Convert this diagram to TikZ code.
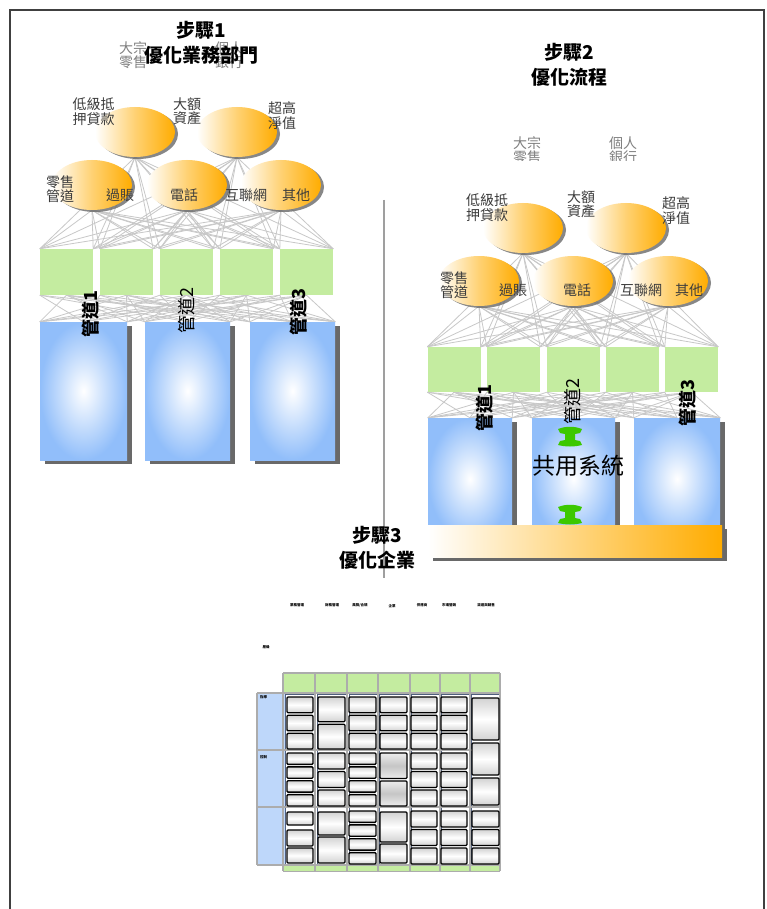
\documentclass[tikz,border=0pt]{standalone}
\usepackage{fontspec}
\setmainfont{Noto Sans CJK TC}
\usetikzlibrary{shapes.geometric,shadows}
\pgfdeclarelayer{bg}
\pgfsetlayers{bg,main}
\definecolor{orangeA}{RGB}{255,172,0}
\definecolor{greenA}{RGB}{196,236,160}
\definecolor{blueA}{RGB}{145,190,250}
\definecolor{lineG}{RGB}{200,200,200}
\definecolor{labelG}{RGB}{60,60,60}
\definecolor{shadowG}{RGB}{105,105,105}
\definecolor{iconG}{RGB}{60,200,0}
\definecolor{rowBlue}{RGB}{190,215,250}
\definecolor{slateA}{RGB}{80,95,125}
\newcommand{\eqcol}[5]{%
  \pgfmathsetmacro\rsH{(#4-#3-(#5-1)*2.5)/#5}%
  \foreach \i in {1,...,#5}{%
    \pgfmathsetmacro\rsA{#3+(\i-1)*(\rsH+2.5)}%
    \pgfmathsetmacro\rsB{\rsA+\rsH}%
    \draw[subbox] (#1,\rsA) rectangle (#2,\rsB);}}
\begin{document}
\begin{tikzpicture}[x=1pt,y=-1pt,
  ell/.style={ellipse, minimum width=80pt, minimum height=50pt, inner sep=0pt,
    left color=white, right color=orangeA, middle color=orangeA!55,
    drop shadow={shadow xshift=3pt, shadow yshift=-2pt, fill=shadowG, opacity=0.8}},
  gbox/.style={rectangle, fill=greenA, minimum width=53pt, minimum height=46pt, inner sep=0pt},
  bbox/.style={rectangle, inner color=white, outer color=blueA, inner sep=0pt,
    drop shadow={shadow xshift=5pt, shadow yshift=-4pt, fill=shadowG, opacity=1}},
  lbl/.style={text=labelG, font=\fontsize{14}{15}\selectfont, align=center, inner sep=0pt},
  tight/.style={font=\fontsize{14}{12}\selectfont},
  mesh/.style={draw=lineG, line width=0.8pt},
  chan/.style={rotate=90, font=\fontsize{18}{18}\selectfont\bfseries, inner sep=0pt},
  chanthin/.style={rotate=90, font=\fontsize{18}{18}\selectfont, inner sep=0pt},
  ttl/.style={font=\fontsize{19}{25}\selectfont\bfseries, align=center, inner sep=0pt},
  tiny/.style={font=\fontsize{3.5}{4}\selectfont\bfseries, inner sep=0pt},
  subbox/.style={draw=black, line width=1.3pt, rounded corners=1pt,
    top color=gray!35, bottom color=gray!35, middle color=white},
  subboxg/.style={draw=black, line width=1.3pt, rounded corners=1pt,
    top color=gray!15, bottom color=gray!15, middle color=gray!45},
]
\useasboundingbox (0,0) rectangle (766,909);
\draw[line width=1.6pt, draw=gray!50!black] (10,909) -- (10,10) -- (764,10) -- (764,909);

% ---------------- Step 1 ----------------
\node[lbl, tight, text=gray] (s1big) at (133,55) {大宗\\零售};
\node[lbl, tight, text=gray] (s1pers) at (229,55) {個人\\銀行};
\node[ttl] (t1) at (201,43) {步驟1\\優化業務部門};

\node[ell] (e11) at (135,132) {};
\node[ell] (e12) at (237,132) {};
\node[ell] (e13) at (92,185) {};
\node[ell] (e14) at (187,185) {};
\node[ell] (e15) at (281,185) {};

\foreach \i/\x in {1/66.5,2/126.5,3/186.5,4/246.5,5/306.5}
  \node[gbox] (g1\i) at (\x,272) {};
\node[bbox, minimum width=87pt, minimum height=138pt] (b11) at (83.5,391) {};
\node[bbox, minimum width=85pt, minimum height=138pt] (b12) at (187.5,391) {};
\node[bbox, minimum width=85pt, minimum height=138pt] (b13) at (292.5,391) {};

\node[lbl] (l11) at (93.5,112) {低級抵\\押貸款};
\node[lbl, font=\fontsize{14}{11.5}\selectfont] (l12) at (187,111) {大額\\資產};
\node[lbl] (l13) at (282,116) {超高\\淨值};
\node[lbl, font=\fontsize{14}{14}\selectfont] (l14) at (60,189) {零售\\管道};
\node[lbl] (l15) at (120,195) {過賬};
\node[lbl] (l16) at (184,195) {電話};
\node[lbl] (l17) at (246,195) {互聯網};
\node[lbl] (l18) at (296,195) {其他};

\node[chan] (c11) at (91,314) {管道1};
\node[chanthin] (c12) at (187,311) {管道2};
\node[chan] (c13) at (299,312) {管道3};

% ---------------- Step 2 ----------------
\node[ttl] (t2) at (569,65) {步驟2\\優化流程};
\begin{scope}
\clip (480,125) rectangle (700,161);
\node[lbl, tight, text=gray] (s2big) at (527,150) {大宗\\零售};
\node[lbl, tight, text=gray] (s2pers) at (623,150) {個人\\銀行};
\end{scope}

\node[ell] (e21) at (523,228) {};
\node[ell] (e22) at (626,228) {};
\node[ell] (e23) at (479,281) {};
\node[ell] (e24) at (573,281) {};
\node[ell] (e25) at (668,281) {};

\foreach \i/\x in {1/454,2/513.5,3/573.5,4/632.5,5/691.5}
  \node[gbox, minimum height=45pt] (g2\i) at (\x,369.5) {};
\node[bbox, minimum width=84pt, minimum height=122pt] (b21) at (470,479) {};
\node[bbox, minimum width=83pt, minimum height=122pt] (b22) at (573.5,479) {};
\node[bbox, minimum width=86pt, minimum height=122pt] (b23) at (677,479) {};
\node[rectangle, minimum width=294pt, minimum height=32pt, inner sep=0pt,
  left color=white, right color=orangeA,
  drop shadow={shadow xshift=5pt, shadow yshift=-4pt, fill=shadowG, opacity=1}] (bar) at (575,541) {};

\node[lbl] (l21) at (487,208) {低級抵\\押貸款};
\node[lbl, font=\fontsize{14}{11.5}\selectfont] (l22) at (581,204) {大額\\資產};
\node[lbl] (l23) at (676,211) {超高\\淨值};
\node[lbl, font=\fontsize{14}{14}\selectfont] (l24) at (454,285) {零售\\管道};
\node[lbl] (l25) at (513,290) {過賬};
\node[lbl] (l26) at (577,290) {電話};
\node[lbl] (l27) at (641,290) {互聯網};
\node[lbl] (l28) at (689,290) {其他};

\node[chan] (c21) at (485,408) {管道1};
\node[chanthin] (c22) at (573,402) {管道2};
\node[chan] (c23) at (688,403) {管道3};

\foreach \cy in {437,515}{
  \begin{scope}[shift={(570,\cy)}]
  \fill[iconG] (-12,-8) .. controls (-4,-11) and (4,-11) .. (12,-8) -- (10,-4) -- (5,-3) -- (5,3) -- (10,4) -- (12,8)
     .. controls (4,10) and (-4,10) .. (-12,8) -- (-10,4) -- (-5,3) -- (-5,-3) -- (-10,-4) -- cycle;
  \end{scope}}
\node[font=\fontsize{23}{23}\selectfont, inner sep=0pt] (shared) at (578,466) {共用系統};

% ---------------- background: divider and mesh ----------------
\begin{pgfonlayer}{bg}
\fill[white] (0,0) rectangle (766,909);
\draw[gray!75, line width=1.2pt] (384,200) -- (384,578);
\foreach \p in {1,2}{
  \foreach \e in {1,...,5}{\foreach \g in {1,...,5}{
    \draw[mesh] (e\p\e.south) -- (g\p\g.north west);
    \draw[mesh] (e\p\e.south) -- (g\p\g.north east);}}
  \foreach \g in {1,...,5}{\foreach \b in {1,2,3}{
    \draw[mesh] (g\p\g.south) -- (b\p\b.north west);
    \draw[mesh] (g\p\g.south west) -- (b\p\b.north);
    \draw[mesh] (g\p\g.south) -- (b\p\b.north east);}}
}
\end{pgfonlayer}

% ---------------- Step 3 ----------------
\node[ttl] (t3) at (377,548) {步驟3\\優化企業};

\node[tiny] (h1) at (297,605) {業務管理};
\node[tiny] (h2) at (332,605) {財務管理};
\node[tiny] (h3) at (360,605) {風險/合規};
\node[tiny] (h4) at (392,606) {企業};
\node[tiny] (h5) at (422,605) {供應商};
\node[tiny] (h6) at (449,605) {市場營銷};
\node[tiny] (h7) at (486,605) {渠道與銷售};
\node[tiny] (r0) at (266,647) {層級};

\fill[greenA] (283,673) rectangle (500,693);
\fill[greenA] (283,865) rectangle (500,871);
\fill[rowBlue] (257,693) rectangle (285,865);
\foreach \xa/\xb in {284/316,316/348,348/378,378/410,410/440,440/470,470/500}
  \draw[slateA, line width=0.8pt] (\xa+1,694) rectangle (\xb-1,864);
\foreach \x in {283,315,347,378,410,440,470,500}
  \draw[gray!65, line width=1.4pt] (\x,673) -- (\x,871);
\draw[gray!65, line width=1.4pt] (283,673) -- (500,673);
\foreach \y in {693,750,807,865}
  \draw[gray!65, line width=1.4pt] (257,\y) -- (500,\y);
\draw[gray!65, line width=1.4pt] (257,693) -- (257,865);
\draw[gray!65, line width=1pt] (283,871) -- (500,871);
\node[tiny, anchor=north west] (r1) at (260,695) {指導};
\node[tiny, anchor=north west] (r2) at (260,755) {控制};

% row 1
\eqcol{287}{313}{697}{749}{3}
\eqcol{318}{345}{697}{749}{2}
\eqcol{349}{376}{697}{749}{3}
\eqcol{380}{407}{697}{749}{3}
\eqcol{411}{437}{697}{749}{3}
\eqcol{441}{467}{697}{749}{3}
\draw[subbox] (472,698) rectangle (499,740);
\draw[subbox] (472,743) rectangle (499,775);
\draw[subbox] (472,778) rectangle (499,805);
% row 2
\eqcol{287}{313}{753}{806}{4}
\eqcol{318}{345}{753}{806}{3}
\eqcol{349}{376}{753}{806}{4}
\draw[subboxg] (380,753) rectangle (407,778.5);
\draw[subboxg] (380,781) rectangle (407,806);
\eqcol{411}{437}{753}{806}{3}
\eqcol{441}{467}{753}{806}{3}
% row 3
\draw[subbox] (287,812) rectangle (313,825);
\draw[subbox] (287,830) rectangle (313,846);
\draw[subbox] (287,848) rectangle (313,863);
\draw[subbox] (318,812) rectangle (345,835);
\draw[subbox] (318,837) rectangle (345,863);
\eqcol{349}{376}{811}{864}{4}
\draw[subbox] (380,812) rectangle (407,842);
\draw[subbox] (380,844) rectangle (407,863);
\eqcol{411}{437}{811}{864}{3}
\eqcol{441}{467}{811}{864}{3}
\eqcol{472}{499}{811}{864}{3}
\end{tikzpicture}
\end{document}
